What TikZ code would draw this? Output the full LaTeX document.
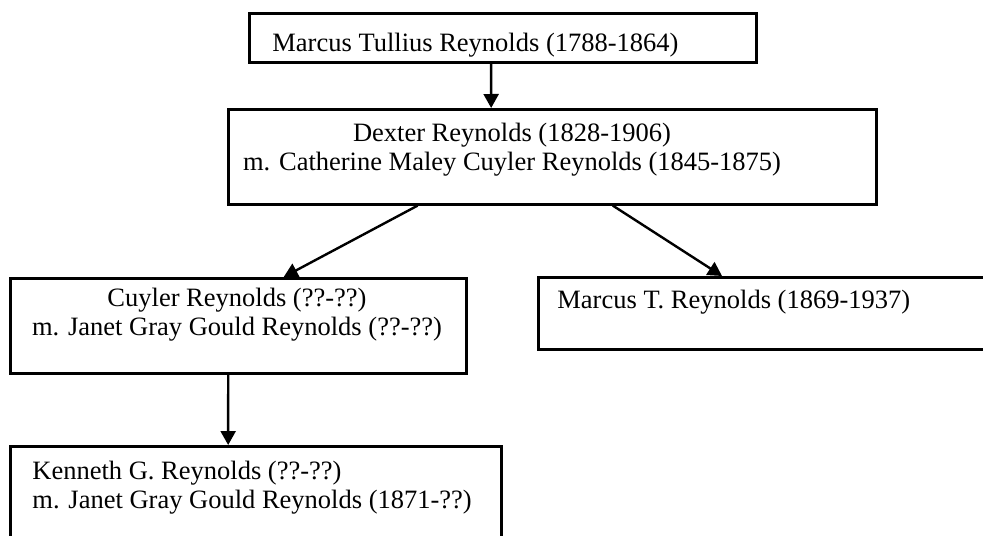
\documentclass[tikz,border=0pt]{standalone}
\usepackage{fontspec}
\setmainfont{Liberation Serif}
\usetikzlibrary{positioning, calc, arrows.meta}

\begin{document}
\begin{tikzpicture}[x=0.5pt, y=-0.5pt, >={Triangle[length=7pt, width=7.5pt]},
    box/.style={draw, line width=1.3pt, inner sep=0pt, anchor=north west},
    person/.style={inner sep=0pt, font=\fontsize{13.25}{14.5}\selectfont},
    link/.style={->, line width=1.2pt}]
    % Define the frame
    \clip (0,0) rectangle (983,535);

    % Draw the boxes
    \node[box, minimum width=253.5pt, minimum height=24.5pt] (mtr) at (248,12) {};
    \node[box, minimum width=324pt, minimum height=47.5pt] (dexter) at (227,108) {};
    \node[box, minimum width=228pt, minimum height=47.5pt] (cuyler) at (9,277) {};
    \node[box, minimum width=230pt, minimum height=36pt] (marcus) at (537,276) {};
    \node[box, minimum width=245.5pt, minimum height=50pt] (kenneth) at (9,445) {};

    % Write the names (base = last line)
    \node[person, anchor=base west] (mtr-t) at (272,52) {Marcus Tullius Reynolds (1788-1864)};
    \node[person, anchor=base, align=center] (dexter-t) at (512,170)
        {Dexter Reynolds (1828-1906)\\ m. Catherine Maley Cuyler Reynolds (1845-1875)};
    \node[person, anchor=base, align=center] (cuyler-t) at (237,335)
        {Cuyler Reynolds (??-??)\\ m. Janet Gray Gould Reynolds (??-??)};
    \node[person, anchor=base west] (marcus-t) at (557,308) {Marcus T. Reynolds (1869-1937)};
    \node[person, anchor=base west, align=left] (kenneth-t) at (32,508)
        {Kenneth G. Reynolds (??-??)\\ m. Janet Gray Gould Reynolds (1871-??)};

    % Draw the descent
    \draw[link] ($(mtr.south west)!.477!(mtr.south east)$) -- ($(dexter.north west)!.406!(dexter.north east)$);
    \draw[link] ($(dexter.south west)!.293!(dexter.south east)$) -- ($(cuyler.north west)!.599!(cuyler.north east)$);
    \draw[link] ($(dexter.south west)!.593!(dexter.south east)$) -- ($(marcus.north west)!.4!(marcus.north east)$);
    \draw[link] ($(cuyler.south west)!.478!(cuyler.south east)$) -- ($(kenneth.north west)!.444!(kenneth.north east)$);

\end{tikzpicture}
\end{document}
